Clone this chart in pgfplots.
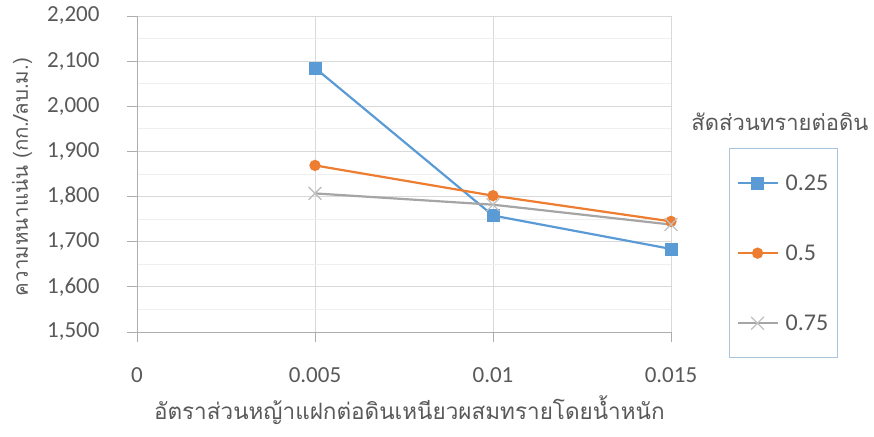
\documentclass[border=0pt]{standalone}
\usepackage{pgfplots}
\pgfplotsset{compat=1.18}
\usepackage{fontspec}
\setmainfont{Carlito}
\newfontfamily\thaifont[Script=Thai]{Loma}

\definecolor{cblue}{HTML}{5B9BD5}
\definecolor{corange}{HTML}{ED7D31}
\definecolor{cgray}{HTML}{A5A5A5}
\definecolor{ctext}{HTML}{595959}
\definecolor{cgrid}{HTML}{D9D9D9}
\definecolor{cminor}{HTML}{EFEFEF}
\definecolor{cframe}{HTML}{A9C4DC}

\begin{document}
\begin{tikzpicture}
\useasboundingbox (-137pt,-104pt) rectangle (737pt,332pt);
\begin{axis}[
  at={(0,0)}, anchor=south west,
  scale only axis,
  width=534pt, height=316pt,
  xmin=0, xmax=0.015,
  ymin=1500, ymax=2200,
  xtick={0,0.005,0.01,0.015},
  xticklabels={0,0.005,0.01,0.015},
  scaled x ticks=false,
  ytick={1500,1600,...,2200},
  minor y tick num=1,
  /pgf/number format/.cd, 1000 sep={,}, assume math mode=true,
  /pgfplots/.cd,
  tick align=outside,
  major tick length=10pt,
  minor tick length=0pt,
  tick style={draw=cgrid!80!black, line width=0.8pt},
  xmajorgrids, ymajorgrids, yminorgrids,
  major grid style={draw=cgrid, line width=0.9pt},
  minor grid style={draw=cminor, line width=0.8pt},
  axis x line*=bottom, axis y line*=left,
  axis line style={draw=cgrid!80!black, line width=0.9pt, -},
  ticklabel style={font=\fontsize{23}{27}\selectfont, text=ctext},
  yticklabel style={xshift=-24pt},
  xticklabel style={yshift=-22pt},
  xlabel={\thaifont\fontsize{22.5}{26}\selectfont อัตราส่วนหญ้าแฝกต่อดินเหนียวผสมทรายโดยน้ำหนัก},
  ylabel={\thaifont\fontsize{20.5}{24}\selectfont ความหนาแน่น (กก./ลบ.ม.)},
  every axis x label/.style={at={(rel axis cs:0.51,0)}, anchor=center, yshift=-78pt, text=ctext},
  every axis y label/.style={at={(rel axis cs:0,0.49)}, anchor=center, xshift=-115pt, rotate=90, text=ctext},
  legend style={at={(rel axis cs:1.1086,0.582)}, anchor=north west,
    draw=cframe, line width=0.9pt, fill=white,
    font=\fontsize{24}{28}\selectfont, text=ctext,
    row sep=49pt, column sep=5pt, inner xsep=7pt, inner ysep=24pt},
  legend cell align=left,
  legend image code/.code={\draw[mark repeat=2,mark phase=2] plot coordinates {(0pt,0pt)(20pt,0pt)(40pt,0pt)};},
  clip=false,
]
\addplot[color=cblue, line width=2.2pt, mark=square*, mark size=6pt, mark options={fill=cblue, draw=cblue, line width=0.5pt}]
  coordinates {(0.005,2085) (0.01,1758) (0.015,1684)};
\addlegendentry{0.25}
\addplot[color=corange, line width=2.2pt, mark=*, mark size=4.5pt, mark options={fill=corange, draw=corange}]
  coordinates {(0.005,1869) (0.01,1802) (0.015,1745)};
\addlegendentry{0.5}
\addplot[color=cgray, line width=2.2pt, mark=x, mark size=9pt, mark options={draw=cgray!70, line width=1.3pt}]
  coordinates {(0.005,1807) (0.01,1782) (0.015,1738)};
\addlegendentry{0.75}
\node[font=\thaifont\fontsize{22}{26}\selectfont, text=ctext, anchor=center]
  at (rel axis cs:1.204, 0.665) {สัดส่วนทรายต่อดิน};
\end{axis}
\end{tikzpicture}
\end{document}
